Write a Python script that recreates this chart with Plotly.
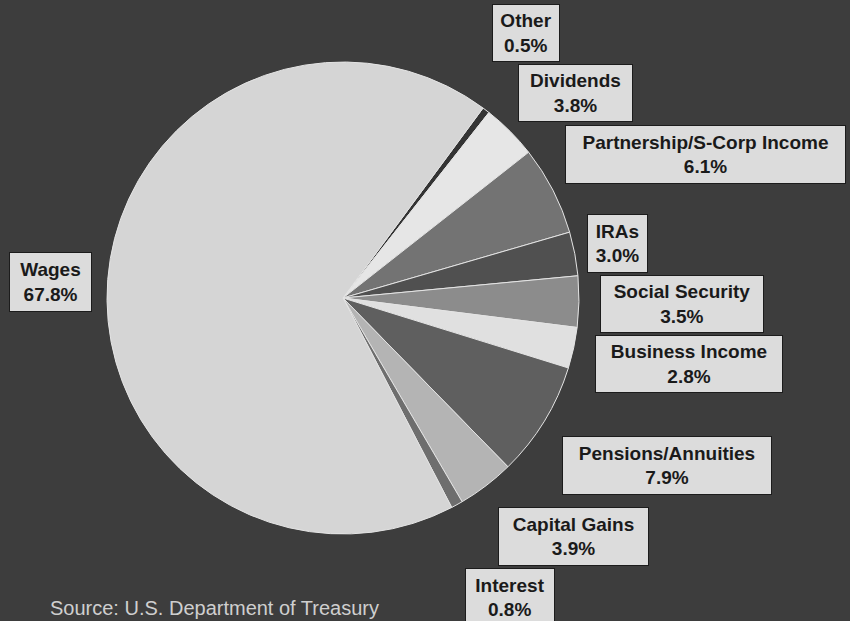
import plotly.graph_objects as go

# Income sources (share of total, %), listed clockwise starting after Wages
categories = ["Other", "Dividends", "Partnership/S-Corp Income", "IRAs",
              "Social Security", "Business Income", "Pensions/Annuities",
              "Capital Gains", "Interest", "Wages"]
shares = [0.5, 3.8, 6.1, 3.0, 3.5, 2.8, 7.9, 3.9, 0.8, 67.8]

slice_colors = ["#343434", "#e6e6e6", "#737373", "#505050", "#8c8c8c",
                "#e0e0e0", "#5f5f5f", "#b4b4b4", "#6e6e6e", "#d5d5d5"]

W, H = 850, 621
BG = "#3d3d3d"

# Pie placement in pixels (centre and radius)
cx, cy, r = 343, 298, 236

fig = go.Figure(go.Pie(
    labels=categories,
    values=shares,
    sort=False,
    direction="clockwise",
    rotation=36.4,
    marker=dict(colors=slice_colors, line=dict(color="#e4e4e4", width=1)),
    textinfo="none",
    hoverinfo="label+percent",
    showlegend=False,
    domain=dict(x=[(cx - r) / W, (cx + r) / W],
                y=[(H - cy - r) / H, (H - cy + r) / H]),
))

# Label boxes: (left, top, right, bottom) in pixels, one per category
label_boxes = {
    "Other": (492, 4, 560, 62),
    "Dividends": (518, 64, 633, 122),
    "Partnership/S-Corp Income": (565, 125, 846, 184),
    "IRAs": (587, 214, 648, 273),
    "Social Security": (600, 275, 764, 333),
    "Business Income": (595, 335, 783, 393),
    "Pensions/Annuities": (562, 436, 772, 495),
    "Capital Gains": (498, 507, 649, 566),
    "Interest": (465, 568, 555, 627),
    "Wages": (9, 252, 92, 312),
}

annotations = []
for name, val in zip(categories, shares):
    x0, y0, x1, y1 = label_boxes[name]
    annotations.append(dict(
        text=f"<b>{name}</b><br><b>{val:.1f}%</b>",
        x=(x0 + x1) / 2 / W, y=1 - (y0 + y1) / 2 / H,
        xref="paper", yref="paper", xanchor="center", yanchor="middle",
        showarrow=False, align="center",
        width=x1 - x0 - 4, height=y1 - y0 - 4,
        bgcolor="#dcdcdc", bordercolor="#1c1c1c", borderwidth=1, borderpad=1,
        font=dict(family="Liberation Sans, Arial, sans-serif", size=19,
                  color="#1a1a1a"),
    ))

# Source note along the bottom edge
annotations.append(dict(
    text="Source: U.S. Department of Treasury",
    x=48 / W, y=0, xref="paper", yref="paper",
    xanchor="left", yanchor="bottom", showarrow=False,
    font=dict(family="Liberation Sans, Arial, sans-serif", size=20,
              color="#cfcfcf"),
))

fig.update_layout(
    width=W, height=H,
    margin=dict(l=0, r=0, t=0, b=0),
    paper_bgcolor=BG, plot_bgcolor=BG,
    annotations=annotations,
)

fig.write_html("out.html")
